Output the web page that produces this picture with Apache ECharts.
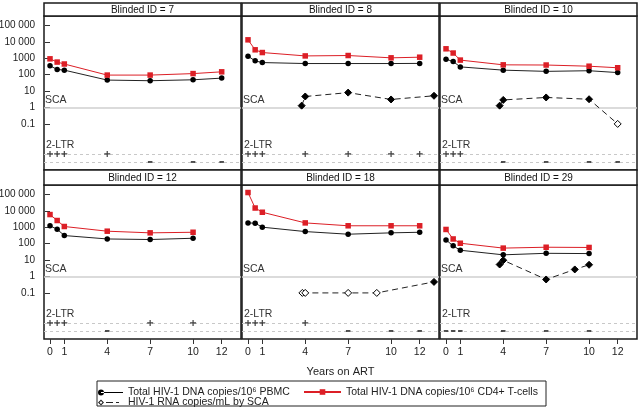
<!DOCTYPE html>
<html><head><meta charset="utf-8">
<script src="https://cdn.jsdelivr.net/npm/echarts@6/dist/echarts.min.js"></script>
<style>html,body{margin:0;padding:0;background:#fff}#c{width:640px;height:408px}</style>
</head><body><div id="c"></div>
<script>
// ---------------- DATA ----------------
const panelIds = [7, 8, 10, 12, 18, 29];
const xTicks = [0, 1, 4, 7, 10, 12];
const yTicks = [0.1, 1, 10, 100, 1000, 10000, 100000];
const yTickLabels = ['0.1', '1', '10', '100', '1000', '10 000', '100 000'];

// ID 7
const years7 = [0, 0.5, 1, 4, 7, 10, 12];
const pbmc7 = [350, 210, 190, 47, 43, 49, 62];
const cd4_7 = [930, 590, 450, 95, 95, 117, 150];
const scaYears7 = [];
const sca7 = [];
const scaBelow7 = [];
const ltrPlus7 = [0, 0.5, 1, 4];
const ltrMinus7 = [7, 10, 12];

// ID 8
const years8 = [0, 0.5, 1, 4, 7, 10, 12];
const pbmc8 = [1350, 700, 550, 480, 480, 480, 490];
const cd4_8 = [13400, 3300, 2250, 1400, 1480, 1070, 1170];
const scaYears8 = [3.75, 4, 7, 10, 13];
const sca8 = [1.3, 4.7, 8.1, 3.1, 5.2];
const scaBelow8 = [0, 0, 0, 0, 0];
const ltrPlus8 = [0, 0.5, 1, 4, 7, 10, 12];
const ltrMinus8 = [];

// ID 10
const years10 = [0, 0.5, 1, 4, 7, 10, 12];
const pbmc10 = [890, 630, 300, 190, 160, 175, 135];
const cd4_10 = [3800, 2100, 780, 400, 390, 330, 265];
const scaYears10 = [3.75, 4, 7, 10, 12];
const sca10 = [1.3, 2.9, 4.1, 3.2, 0.1];
const scaBelow10 = [0, 0, 0, 0, 1];
const ltrPlus10 = [0, 0.5, 1];
const ltrMinus10 = [4, 7, 10, 12];

// ID 12
const years12 = [0, 0.5, 1, 4, 7, 10];
const pbmc12 = [1240, 760, 315, 195, 180, 215];
const cd4_12 = [6000, 2600, 1120, 580, 460, 500];
const scaYears12 = [];
const sca12 = [];
const scaBelow12 = [];
const ltrPlus12 = [0, 0.5, 1, 7, 10];
const ltrMinus12 = [4];

// ID 18
const years18 = [0, 0.5, 1, 4, 7, 10, 12];
const pbmc18 = [1860, 1780, 1020, 550, 380, 460, 500];
const cd4_18 = [132000, 15000, 8300, 1860, 1240, 1240, 1240];
const scaYears18 = [3.8, 4, 7, 9, 13];
const sca18 = [0.1, 0.1, 0.1, 0.1, 0.47];
const scaBelow18 = [1, 1, 1, 1, 0];
const ltrPlus18 = [0, 0.5, 1, 4];
const ltrMinus18 = [7, 10, 12];

// ID 29
const years29 = [0, 0.5, 1, 4, 7, 10];
const pbmc29 = [170, 74, 40, 21, 26, 25];
const cd4_29 = [740, 195, 107, 54, 61, 59];
const scaYears29 = [3.75, 4, 7, 9, 10];
const sca29 = [5.4, 9.8, 0.66, 2.7, 5.2];
const scaBelow29 = [0, 0, 0, 0, 0];
const ltrPlus29 = [];
const ltrMinus29 = [0, 0.5, 1, 4, 7, 10];

const namePbmc = 'Total HIV-1 DNA copies/10\u2076 PBMC';
const nameCd4 = 'Total HIV-1 DNA copies/10\u2076 CD4+ T-cells';
const nameSca = 'HIV-1 RNA copies/mL by SCA';

// ---------------- LAYOUT / STYLE ----------------
const FONT = '"Liberation Sans", Arial, "DejaVu Sans", sans-serif';
const colLeft = [44, 242, 440];
const colW = 197;
const rowTop = [16, 185];
const rowH = 154;
const headTop = [3, 170];
const yMax = Math.pow(10, 5.58), yMin = Math.pow(10, -3.81);
const plusLevel = Math.pow(10, -2.83), minusLevel = Math.pow(10, -3.32);
const RED = '#dc1f26';

const panels = [
  {years: years7, pbmc: pbmc7, cd4: cd4_7, scaX: scaYears7, sca: sca7, below: scaBelow7, plus: ltrPlus7, minus: ltrMinus7},
  {years: years8, pbmc: pbmc8, cd4: cd4_8, scaX: scaYears8, sca: sca8, below: scaBelow8, plus: ltrPlus8, minus: ltrMinus8},
  {years: years10, pbmc: pbmc10, cd4: cd4_10, scaX: scaYears10, sca: sca10, below: scaBelow10, plus: ltrPlus10, minus: ltrMinus10},
  {years: years12, pbmc: pbmc12, cd4: cd4_12, scaX: scaYears12, sca: sca12, below: scaBelow12, plus: ltrPlus12, minus: ltrMinus12},
  {years: years18, pbmc: pbmc18, cd4: cd4_18, scaX: scaYears18, sca: sca18, below: scaBelow18, plus: ltrPlus18, minus: ltrMinus18},
  {years: years29, pbmc: pbmc29, cd4: cd4_29, scaX: scaYears29, sca: sca29, below: scaBelow29, plus: ltrPlus29, minus: ltrMinus29}
];

const grids = [], xAxes = [], yAxes = [], series = [], graphics = [];
const refLabel = {show: true, position: 'insideStartTop', color: '#333', fontSize: 10.5, fontFamily: FONT};

panels.forEach((p, i) => {
  const col = i % 3, row = Math.floor(i / 3);
  grids.push({left: colLeft[col], top: rowTop[row], width: colW, height: rowH, show: true,
    borderColor: '#1a1a1a', borderWidth: 1.5, backgroundColor: 'transparent', outerBoundsMode: 'none'});
  xAxes.push({gridIndex: i, type: 'value', min: -0.42, max: 13.35,
    axisLine: {show: false}, splitLine: {show: false},
    axisTick: {show: row === 1, customValues: xTicks, length: 5, lineStyle: {color: '#333'}},
    axisLabel: {show: row === 1, customValues: xTicks, fontSize: 10.5, fontFamily: FONT, color: '#222', margin: 8},
    name: i === 4 ? 'Years on ART' : '', nameLocation: 'middle', nameGap: 27,
    nameTextStyle: {fontSize: 11, fontFamily: FONT, color: '#222'}});
  yAxes.push({gridIndex: i, type: 'log', min: yMin, max: yMax,
    axisLine: {show: false}, splitLine: {show: false}, minorTick: {show: false},
    axisTick: {show: col === 0, customValues: yTicks, length: 5, lineStyle: {color: '#333'}},
    axisLabel: {show: col === 0, customValues: yTicks, fontSize: 10, fontFamily: FONT, color: '#222', margin: 9,
      formatter: v => { const k = yTicks.findIndex(t => Math.abs(Math.log10(t) - Math.log10(v)) < 1e-6); return k >= 0 ? yTickLabels[k] : ''; }}});

  series.push({
    name: namePbmc, type: 'line', xAxisIndex: i, yAxisIndex: i, z: 4,
    data: p.years.map((x, k) => [x, p.pbmc[k]]),
    symbol: 'circle', symbolSize: 5.5, showSymbol: true,
    itemStyle: {color: '#000'}, lineStyle: {color: '#222', width: 1},
    animation: false,
    markLine: {silent: true, symbol: ['none', 'none'], animation: false, z: 1, precision: 8,
      data: [
        {yAxis: 1, lineStyle: {color: '#cfcfcf', width: 1.5, type: 'solid'},
          label: Object.assign({}, refLabel, {formatter: 'SCA', distance: [1, 2]})},
        {yAxis: plusLevel, lineStyle: {color: '#c8c8c8', width: 1, type: [3, 3]},
          label: Object.assign({}, refLabel, {formatter: '2-LTR', distance: [2, 3]})},
        {yAxis: minusLevel, lineStyle: {color: '#c8c8c8', width: 1, type: [3, 3]}, label: {show: false}}
      ]}
  });
  series.push({
    name: nameCd4, type: 'line', xAxisIndex: i, yAxisIndex: i, z: 5,
    data: p.years.map((x, k) => [x, p.cd4[k]]),
    symbol: 'rect', symbolSize: 5.5,
    itemStyle: {color: RED}, lineStyle: {color: RED, width: 1},
    animation: false
  });
  series.push({
    name: nameSca, type: 'line', xAxisIndex: i, yAxisIndex: i, z: 4,
    data: p.scaX.map((x, k) => ({value: [x, p.sca[k]], itemStyle: p.below[k] ? {} : {color: '#000'}})),
    symbol: 'diamond', symbolSize: 7,
    itemStyle: {color: '#fff', borderColor: '#000', borderWidth: 1},
    lineStyle: {color: '#222', width: 1, type: [6, 4]},
    animation: false
  });
  series.push({
    name: '2-LTR +', type: 'scatter', xAxisIndex: i, yAxisIndex: i, z: 7,
    data: p.plus.map(x => [x, plusLevel]),
    symbol: 'path://M0,2.4H6V3.6H0ZM2.4,0H3.6V6H2.4Z', symbolSize: 6,
    itemStyle: {color: '#111'}, animation: false
  });
  series.push({
    name: '2-LTR -', type: 'scatter', xAxisIndex: i, yAxisIndex: i, z: 7,
    data: p.minus.map(x => [x, minusLevel]),
    symbol: 'path://M0,0H4V1H0Z', symbolSize: [4.5, 1.8],
    itemStyle: {color: '#111'}, animation: false
  });

  graphics.push({type: 'rect', z: 10, shape: {x: colLeft[col], y: headTop[row], width: colW, height: rowTop[row] - headTop[row]},
    style: {fill: '#fff', stroke: '#1a1a1a', lineWidth: 1.5}});
  graphics.push({type: 'text', z: 11, x: colLeft[col] + colW / 2, y: (headTop[row] + rowTop[row]) / 2 + 0.5,
    style: {text: 'Blinded ID = ' + panelIds[i], align: 'center', verticalAlign: 'middle', font: '10px ' + FONT, fill: '#111'}});
});

// legend box
graphics.push({type: 'rect', z: 1, shape: {x: 97, y: 381, width: 449, height: 25}, style: {fill: 'none', stroke: '#222', lineWidth: 1}});

const legendBase = {selectedMode: false, itemGap: 0, padding: 0, symbolKeepAspect: false,
  textStyle: {fontSize: 10.5, fontFamily: FONT, color: '#222'}};

const option = {
  animation: false,
  backgroundColor: '#fff',
  grid: grids, xAxis: xAxes, yAxis: yAxes, series: series,
  legend: [
    Object.assign({}, legendBase, {left: 98, top: 387, itemWidth: 25, itemHeight: 6,
      data: [{name: namePbmc, icon: 'path://M0,3A3,3 0 1,0 6,3A3,3 0 1,0 0,3ZM3,2.5H25V3.5H3Z', itemStyle: {color: '#000', borderWidth: 0}}]}),
    Object.assign({}, legendBase, {left: 303, top: 386.5, itemWidth: 37, itemHeight: 7, data: [nameCd4]}),
    Object.assign({}, legendBase, {left: 98, top: 397, itemWidth: 21, itemHeight: 6,
      textStyle: {fontSize: 10.5, fontFamily: FONT, color: '#222', padding: [0, 0, 0, 4]},
      data: [{name: nameSca, icon: 'path://M0,3L3,0L6,3L3,6ZM1.5,3L3,4.5L4.5,3L3,1.5ZM8,2.5H15V3.5H8ZM18,2.5H21V3.5H18Z', itemStyle: {color: '#222', borderWidth: 0}}]})
  ],
  graphic: graphics
};
const chart = echarts.init(document.getElementById('c'));
chart.setOption(option);
</script>
</body></html>
